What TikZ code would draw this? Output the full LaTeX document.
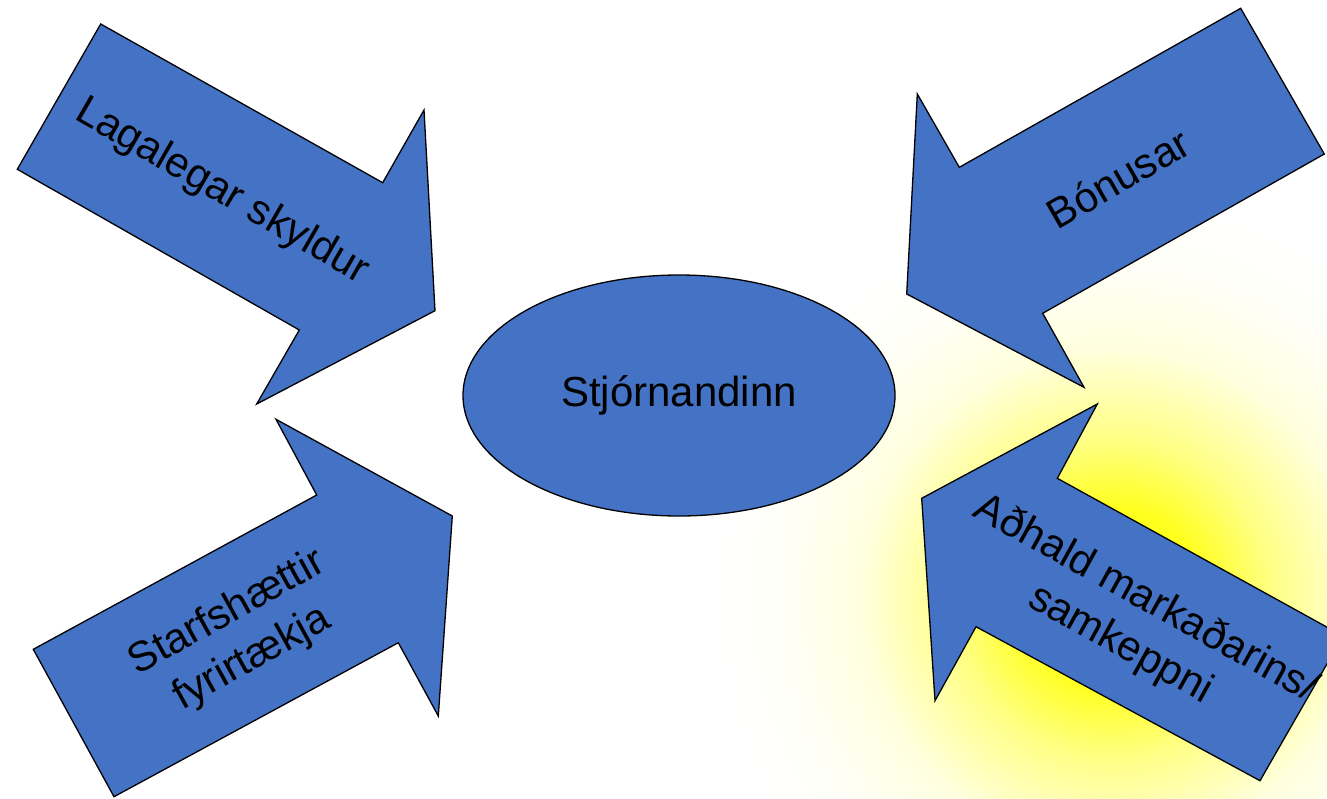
\documentclass[tikz,border=0pt]{standalone}
\usepackage{fontspec}
\setmainfont{Liberation Sans}
\usetikzlibrary{shapes.geometric}
\definecolor{arrowblue}{HTML}{4472C4}
\colorlet{glowA}{yellow!88}
\colorlet{glowB}{yellow!48}
\colorlet{glowC}{yellow!13}
\colorlet{glowD}{yellow!3}
% with \shade on a circle, 25bp of the shading matches the circle radius
\pgfdeclareradialshading{glow}{\pgfpoint{0bp}{0bp}}{color(0bp)=(yellow); color(5.6bp)=(glowA); color(10bp)=(glowB); color(15.6bp)=(glowC); color(20.6bp)=(glowD); color(25bp)=(white); color(50bp)=(white)}
\tikzset{
  bigarrow/.style={draw=black, fill=arrowblue, line width=1.3bp, line join=miter},
  lbl/.style={font=\fontsize{42bp}{52bp}\selectfont, align=center, inner sep=0pt, text=black},
}
\begin{document}
\begin{tikzpicture}[x=1bp, y=-1bp]
\useasboundingbox (0,0) rectangle (1327,798);
\clip (0,0) rectangle (1327,798);
\fill[white] (0,0) rectangle (1327,798);
% background glow
\shade[shading=glow] (1112,598) circle[radius=400bp];
% arrows
\draw[bigarrow] (100.7,24) -- (382.7,182.7) -- (424,110) -- (435,310.7) -- (256.7,404) -- (299.3,330) -- (17.3,169.3) -- cycle;
\draw[bigarrow] (1240.7,8.3) -- (1324.3,154) -- (1042.7,313.3) -- (1084,387.3) -- (906.7,294) -- (917.3,94) -- (959.3,167.3) -- cycle;
\draw[bigarrow] (33.3,649.3) -- (316.7,495) -- (276,419.3) -- (452.3,516) -- (438.3,716) -- (398.3,642.7) -- (114,796.7) -- cycle;
\draw[bigarrow] (1097.3,404) -- (921.7,498.3) -- (935,700.7) -- (976,626.7) -- (1260,780.7) -- (1343,636) -- (1057.3,478.3) -- cycle;
% labels
\node[lbl, rotate=-30] (legal) at (222,192) {Lagalegar skyldur};
\node[lbl, rotate=30] (bonus) at (1118,178) {Bónusar};
\node[lbl, rotate=29] (practice) at (240,636) {Starfshættir\\fyrirtækja};
\node[lbl, rotate=-29] (market) at (1133,622) {Aðhald markaðarins/\\samkeppni};
% centre
\node[ellipse, draw=black, fill=arrowblue, line width=1.3bp, minimum width=432bp, minimum height=241bp, inner sep=0pt, font=\fontsize{42bp}{50bp}\selectfont] (mgr) at (679,395.5) {Stjórnandinn};
\end{tikzpicture}
\end{document}
